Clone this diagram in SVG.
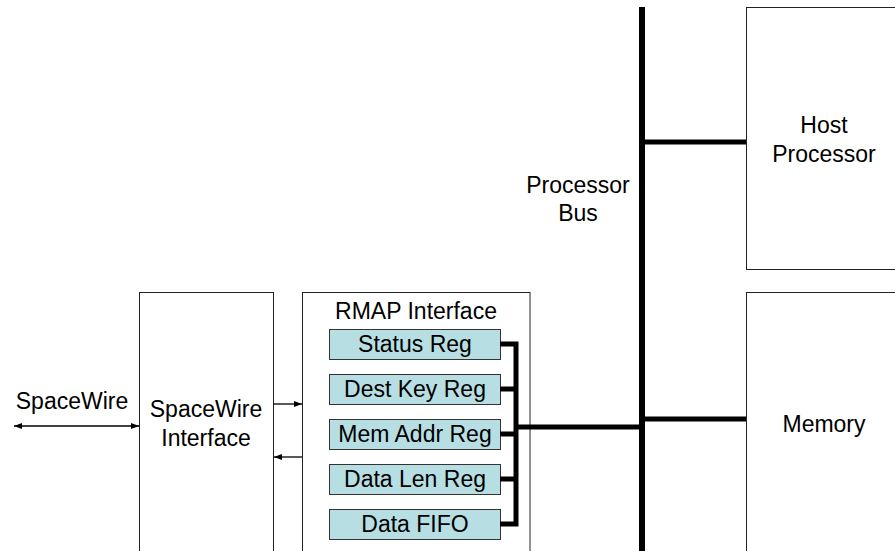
<svg xmlns="http://www.w3.org/2000/svg" width="895" height="551" viewBox="0 0 895 551">
<style>
.box{fill:#fff;stroke:#222;stroke-width:1}
.reg{fill:#b7dfe3;stroke:#333;stroke-width:1}
.t{font-family:"Liberation Sans",Arial,sans-serif;font-size:23px;fill:#000;text-anchor:middle}
.bus{stroke:#000;fill:none;stroke-linejoin:miter;stroke-linecap:butt}
.thin{stroke:#000;stroke-width:1.3;fill:none}
</style>
<defs>
<marker id="ah" viewBox="0 0 8 6" refX="8" refY="3" markerWidth="8" markerHeight="6" markerUnits="userSpaceOnUse" orient="auto-start-reverse">
<path d="M0,0 L8,3 L0,6 Z" fill="#000"/>
</marker>
</defs>
<rect width="895" height="551" fill="#fff"/>
<g id="spacewire-interface">
<rect class="box" x="139.5" y="292.5" width="134" height="270"/>
<text class="t" x="206" y="417">SpaceWire</text>
<text class="t" x="206" y="446">Interface</text>
</g>
<g id="rmap-interface">
<rect class="box" x="302.5" y="292.5" width="227.5" height="270"/>
<text class="t" x="416" y="319">RMAP Interface</text>
</g>
<g id="status-reg">
<rect class="reg" x="329.5" y="329.5" width="171" height="30"/>
<text class="t" x="415" y="352">Status Reg</text>
</g>
<g id="dest-key-reg">
<rect class="reg" x="329.5" y="374.5" width="171" height="30"/>
<text class="t" x="415" y="397">Dest Key Reg</text>
</g>
<g id="mem-addr-reg">
<rect class="reg" x="329.5" y="419.5" width="171" height="30"/>
<text class="t" x="415" y="442">Mem Addr Reg</text>
</g>
<g id="data-len-reg">
<rect class="reg" x="329.5" y="464.5" width="171" height="30"/>
<text class="t" x="415" y="487">Data Len Reg</text>
</g>
<g id="data-fifo">
<rect class="reg" x="329.5" y="509.5" width="171" height="30"/>
<text class="t" x="415" y="532">Data FIFO</text>
</g>
<g id="host-processor">
<rect class="box" x="746.5" y="7.5" width="160" height="262"/>
<text class="t" x="824" y="133">Host</text>
<text class="t" x="824" y="162">Processor</text>
</g>
<g id="memory">
<rect class="box" x="746.5" y="292.5" width="160" height="270"/>
<text class="t" x="824" y="432">Memory</text>
</g>
<g id="processor-bus-label">
<text class="t" x="578" y="193">Processor</text>
<text class="t" x="578" y="221">Bus</text>
</g>
<g id="connectors">
<line class="bus" x1="642" y1="7" x2="642" y2="551" stroke-width="6"/>
<line class="bus" x1="642" y1="142" x2="746" y2="142" stroke-width="5"/>
<line class="bus" x1="642" y1="419" x2="746" y2="419" stroke-width="5"/>
<line class="bus" x1="516" y1="427" x2="642" y2="427" stroke-width="5"/>
<path class="bus" d="M500,344 H516 V524 H500" stroke-width="5"/>
<line class="bus" x1="500" y1="389" x2="516" y2="389" stroke-width="5"/>
<line class="bus" x1="500" y1="434" x2="516" y2="434" stroke-width="5"/>
<line class="bus" x1="500" y1="479" x2="516" y2="479" stroke-width="5"/>
<line class="thin" x1="14" y1="426" x2="139" y2="426" marker-start="url(#ah)" marker-end="url(#ah)"/>
<line class="thin" x1="273" y1="404" x2="302" y2="404" marker-end="url(#ah)"/>
<line class="thin" x1="302" y1="457" x2="274" y2="457" marker-end="url(#ah)"/>
</g>
<g id="spacewire-label">
<text class="t" x="72" y="409">SpaceWire</text>
</g>
</svg>
